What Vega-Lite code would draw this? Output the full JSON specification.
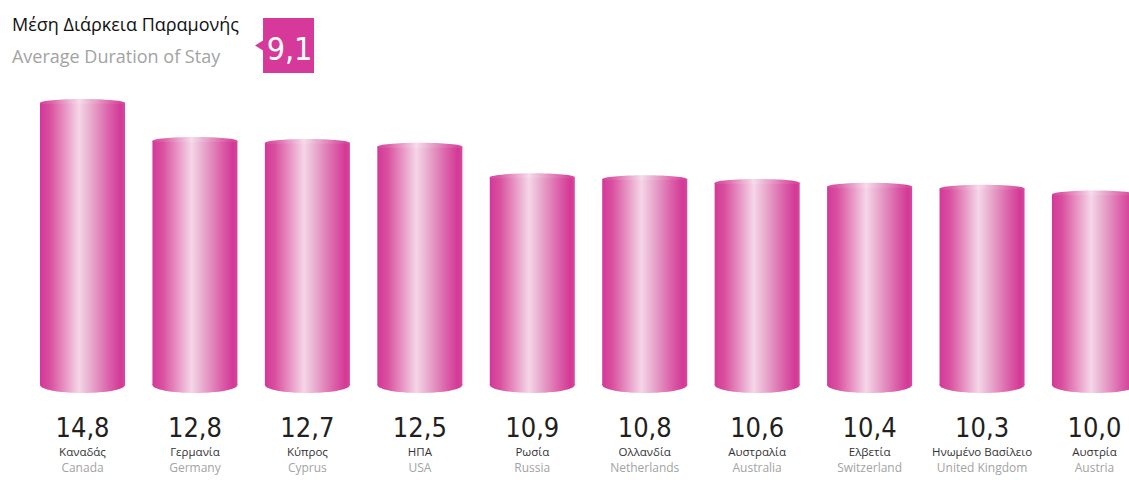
{
  "$schema": "https://vega.github.io/schema/vega-lite/v6.json",
  "width": 1129,
  "height": 390,
  "autosize": {"type": "none"},
  "padding": {"left": 0, "top": 90, "right": 0, "bottom": 0},
  "background": "#ffffff",
  "config": {"view": {"stroke": null}},
  "data": {
    "values": [
      {"el": "Καναδάς", "en": "Canada", "value": 14.8, "label": "14,8"},
      {"el": "Γερμανία", "en": "Germany", "value": 12.8, "label": "12,8"},
      {"el": "Κύπρος", "en": "Cyprus", "value": 12.7, "label": "12,7"},
      {"el": "ΗΠΑ", "en": "USA", "value": 12.5, "label": "12,5"},
      {"el": "Ρωσία", "en": "Russia", "value": 10.9, "label": "10,9"},
      {"el": "Ολλανδία", "en": "Netherlands", "value": 10.8, "label": "10,8"},
      {"el": "Αυστραλία", "en": "Australia", "value": 10.6, "label": "10,6"},
      {"el": "Ελβετία", "en": "Switzerland", "value": 10.4, "label": "10,4"},
      {"el": "Ηνωμένο Βασίλειο", "en": "United Kingdom", "value": 10.3, "label": "10,3"},
      {"el": "Αυστρία", "en": "Austria", "value": 10.0, "label": "10,0"}
    ]
  },
  "encoding": {
    "x": {
      "field": "el",
      "type": "nominal",
      "sort": null,
      "axis": null,
      "scale": {"range": [40, 1137], "paddingInner": 0.2438, "paddingOuter": 0}
    }
  },
  "layer": [
    {
      "mark": {
        "type": "bar",
        "color": {
          "gradient": "linear",
          "x1": 0, "x2": 1, "y1": 0, "y2": 0,
          "stops": [
            {"offset": 0, "color": "#d3389a"},
            {"offset": 0.12, "color": "#d9509f"},
            {"offset": 0.46, "color": "#f5d6e8"},
            {"offset": 0.58, "color": "#e9b0d0"},
            {"offset": 0.82, "color": "#db5ea8"},
            {"offset": 0.95, "color": "#d33896"},
            {"offset": 1, "color": "#d8479e"}
          ]
        }
      },
      "encoding": {
        "y": {
          "field": "value",
          "type": "quantitative",
          "axis": null,
          "scale": {"domain": [0, 14.8], "range": [295, 13], "nice": false, "zero": true}
        }
      }
    },
    {
      "mark": {
        "type": "point",
        "filled": true,
        "opacity": 1,
        "strokeWidth": 0,
        "size": 7225,
        "shape": "M-1,0.02L-1,0C-1,-0.052,-0.552,-0.094,0,-0.094C0.552,-0.094,1,-0.052,1,0L1,0.02Z",
        "color": {
          "gradient": "linear",
          "x1": 0, "x2": 1, "y1": 0, "y2": 0,
          "stops": [
            {"offset": 0, "color": "#d6469f"},
            {"offset": 0.12, "color": "#dc5ea6"},
            {"offset": 0.46, "color": "#f6dbea"},
            {"offset": 0.58, "color": "#ebb7d4"},
            {"offset": 0.82, "color": "#de6aae"},
            {"offset": 0.95, "color": "#d6469c"},
            {"offset": 1, "color": "#da53a3"}
          ]
        }
      },
      "encoding": {
        "y": {"field": "value", "type": "quantitative"}
      }
    },
    {
      "mark": {
        "type": "point",
        "filled": true,
        "opacity": 1,
        "strokeWidth": 0,
        "size": 7225,
        "shape": "M-1,-0.02L-1,0C-1,0.104,-0.552,0.188,0,0.188C0.552,0.188,1,0.104,1,0L1,-0.02Z",
        "color": {
          "gradient": "linear",
          "x1": 0, "x2": 1, "y1": 0, "y2": 0,
          "stops": [
            {"offset": 0, "color": "#d3389a"},
            {"offset": 0.12, "color": "#d9509f"},
            {"offset": 0.46, "color": "#f5d6e8"},
            {"offset": 0.58, "color": "#e9b0d0"},
            {"offset": 0.82, "color": "#db5ea8"},
            {"offset": 0.95, "color": "#d33896"},
            {"offset": 1, "color": "#d8479e"}
          ]
        }
      },
      "encoding": {
        "y": {"datum": 0, "type": "quantitative"}
      }
    },
    {
      "mark": {
        "type": "text",
        "font": "DejaVu Sans Condensed, Liberation Sans Narrow, Lato",
        "fontSize": 27,
        "color": "#231f20",
        "baseline": "alphabetic",
        "align": "center"
      },
      "encoding": {
        "y": {"datum": -2.729, "type": "quantitative"},
        "text": {"field": "label"}
      }
    },
    {
      "mark": {
        "type": "text",
        "font": "Open Sans",
        "fontSize": 11.5,
        "color": "#333333",
        "baseline": "alphabetic",
        "align": "center"
      },
      "encoding": {
        "y": {"datum": -3.726, "type": "quantitative"},
        "text": {"field": "el"}
      }
    },
    {
      "mark": {
        "type": "text",
        "font": "Open Sans",
        "fontSize": 12,
        "color": "#a3a3a3",
        "baseline": "alphabetic",
        "align": "center"
      },
      "encoding": {
        "y": {"datum": -4.566, "type": "quantitative"},
        "text": {"field": "en"}
      }
    },
    {
      "data": {"values": [{"avg": "9,1", "pos": "Κύπρος", "anchor": "Καναδάς", "head": "Μέση Διάρκεια Παραμονής", "sub": "Average Duration of Stay"}]},
      "layer": [
        {
          "mark": {
            "type": "point",
            "filled": true,
            "opacity": 1,
            "strokeWidth": 0,
            "size": 3025,
            "color": "#d6399a",
            "shape": "M-0.927,-1L0.927,-1L0.927,1L-0.927,1L-0.927,0.18L-1.218,0L-0.927,-0.18Z"
          },
          "encoding": {
            "x": {"field": "pos", "type": "nominal", "sort": null, "bandPosition": 0.278},
            "y": {"datum": 17.818, "type": "quantitative"}
          }
        },
        {
          "mark": {
            "type": "text",
            "font": "DejaVu Sans Condensed, Liberation Sans Narrow, Lato",
            "fontSize": 32,
            "color": "#ffffff",
            "baseline": "alphabetic",
            "align": "center"
          },
          "encoding": {
            "x": {"field": "pos", "type": "nominal", "sort": null, "bandPosition": 0.29},
            "y": {"datum": 17.057, "type": "quantitative"},
            "text": {"field": "avg"}
          }
        },
        {
          "mark": {
            "type": "text",
            "font": "Open Sans",
            "fontSize": 18,
            "color": "#111111",
            "baseline": "alphabetic",
            "align": "left"
          },
          "encoding": {
            "x": {"field": "anchor", "type": "nominal", "sort": null, "bandPosition": -0.33},
            "y": {"datum": 18.579, "type": "quantitative"},
            "text": {"field": "head"}
          }
        },
        {
          "mark": {
            "type": "text",
            "font": "Open Sans",
            "fontSize": 18,
            "color": "#a3a3a3",
            "baseline": "alphabetic",
            "align": "left"
          },
          "encoding": {
            "x": {"field": "anchor", "type": "nominal", "sort": null, "bandPosition": -0.33},
            "y": {"datum": 16.9, "type": "quantitative"},
            "text": {"field": "sub"}
          }
        }
      ]
    }
  ]
}
